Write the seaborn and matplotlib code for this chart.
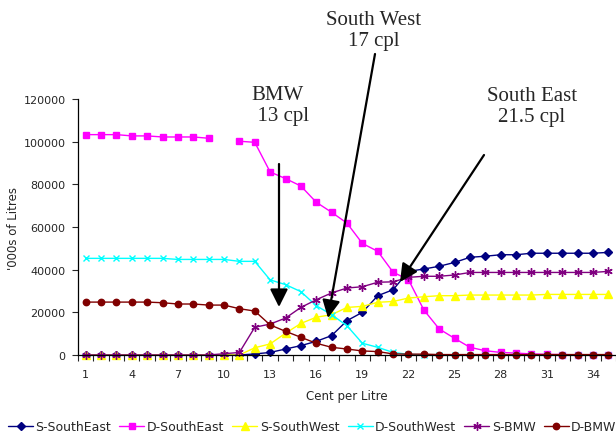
import numpy as np
import matplotlib
matplotlib.use("Agg")
import matplotlib.pyplot as plt
import seaborn as sns

nan = np.nan

# ---------------- data ----------------
cents = list(range(1, 36))

s_southeast = [0, 0, 0, 0, 0, 0, 0, 0, 0, 0, 0,
               500, 1200, 2800, 4400, 6400, 9100, 16100, 20000, 27800, 30600,
               39200, 40300, 41600, 43400, 45800, 46300, 47000, 47000, 47700,
               47700, 47700, 47700, 47700, 48100]
d_southeast = [103300, 103300, 103300, 102700, 102700, 102200, 102200, 102200, 101600, nan,
               100200, 99700, 85800, 82700, 79200, 71600, 66900, 61800, 52300, 48600,
               38800, 35300, 21100, 12200, 7800, 3600, 2000, 1200, 900, 500,
               300, 200, 100, 100, 100]
s_southwest = [0, 0, 0, 0, 0, 0, 0, 0, 0, 0, 0,
               3400, 5200, 10200, 14800, 17700, 18900, 22300, 22800, 24700, 25100,
               26700, 27300, 27800, 27800, 28100, 28100, 28100, 28100, 28100,
               28400, 28400, 28400, 28400, 28400]
d_southwest = [45300, 45300, 45300, 45300, 45300, 45300, 44800, 44800, 44800, 44800,
               43900, 43900, 35200, 33000, 29700, 23100, 18900, 13700, 5500, 3600,
               1200, 300, 100, 0, 0, 0, 0, 0, 0, 0, 0, 0, 0, 0, 0]
s_bmw = [0, 0, 0, 0, 0, 0, 0, 0, 0,
         600, 1200, 13000, 14500, 17300, 22300, 25900, 29100, 31400, 32000, 34100,
         34300, 36400, 36900, 36900, 37500, 38700, 38700, 38700, 38700, 38700,
         38700, 38700, 38700, 38700, 39200]
d_bmw = [24800, 24800, 24800, 24800, 24800, 24500, 23900, 23900, 23400, 23400,
         21700, 20600, 14100, 11100, 8300, 5500, 3600, 2800, 1900, 1600,
         500, 400, 400, 200, 200, 200, 200, 200, 200, 200, 200, 200, 200, 200, 200]

series_names = ["S-SouthEast", "D-SouthEast", "S-SouthWest", "D-SouthWest", "S-BMW", "D-BMW"]
series_values = [s_southeast, d_southeast, s_southwest, d_southwest, s_bmw, d_bmw]
colors = ["#000080", "#FF00FF", "#FFFF00", "#00FFFF", "#800080", "#800000"]
markers = ["D", "s", "^", "x", (6, 2, 0), "o"]
msizes = [3.8, 4.6, 5.2, 4.6, 6, 4.6]

tick_labels = [str(c) for c in cents[::3]]

# ---------------- plot ----------------
sns.set_style("ticks")
plt.rcParams["font.family"] = ["DejaVu Sans"]

fig = plt.figure(figsize=(6.16, 4.35), dpi=100)
ax = fig.add_axes([78 / 616, 1 - 356 / 435, 538 / 616, 256 / 435])

for name, vals, col, mk, ms in zip(series_names, series_values, colors, markers, msizes):
    vals = np.array(vals, dtype=float)
    x = np.array(cents)
    # split at gaps so the missing value breaks the line
    ok = ~np.isnan(vals)
    runs = np.split(np.arange(len(vals)), np.where(~ok)[0])
    first = True
    for r in runs:
        r = r[ok[r]]
        if len(r) == 0:
            continue
        sns.lineplot(x=x[r], y=vals[r], ax=ax, color=col, marker=mk, markersize=ms,
                     markeredgecolor=col, markerfacecolor=col, markeredgewidth=1,
                     linewidth=1, label=name if first else None, clip_on=False)
        first = False

ax.set_xlim(0.5, 35.5)
ax.set_ylim(0, 120000)
ax.set_yticks(range(0, 120001, 20000))
ax.set_xticks(cents[::3])
ax.set_xticklabels(tick_labels)
ax.set_xticks(np.arange(0.5, 36, 1), minor=True)
ax.tick_params(axis="x", which="major", length=0, labelsize=8, pad=10)
ax.tick_params(axis="x", which="minor", length=4, width=0.8)
ax.tick_params(axis="y", length=4, width=0.8, labelsize=8, pad=5)
for s in ["top", "right"]:
    ax.spines[s].set_visible(False)
for s in ["left", "bottom"]:
    ax.spines[s].set_linewidth(0.9)
    ax.spines[s].set_color("black")

ax.set_xlabel("Cent per Litre", fontsize=8.5, labelpad=7)
ax.set_ylabel("'000s of Litres", fontsize=8.5)
ax.yaxis.set_label_coords(-0.108, 0.5)

h, l = ax.get_legend_handles_labels()
ax.legend(h, l, ncol=6, loc="center left", bbox_to_anchor=(8 / 616, 1 - 428 / 435),
          bbox_transform=fig.transFigure, frameon=False, fontsize=9,
          handlelength=2.0, handletextpad=0.2, columnspacing=0.65, borderaxespad=0,
          borderpad=0)

# annotations (figure pixel positions)
def fp(px, py):
    return (px / 616, 1 - py / 435)

serif = dict(family=["Liberation Serif", "DejaVu Serif"], size=15)
fig.text(*fp(278, 106), "BMW\n  13 cpl", ha="center", va="center", linespacing=1.15, **serif)
fig.text(*fp(374, 31), "South West\n17 cpl", ha="center", va="center", linespacing=1.15, **serif)
fig.text(*fp(532, 107), "South East\n21.5 cpl", ha="center", va="center", linespacing=1.15, **serif)

arrow = dict(arrowstyle="-|>,head_length=0.6,head_width=0.3", lw=1.6, color="black",
             mutation_scale=18, shrinkA=0, shrinkB=0)
ax.annotate("", xy=fp(279, 308), xytext=fp(279, 165), xycoords="figure fraction",
            textcoords="figure fraction", arrowprops=arrow)
ax.annotate("", xy=fp(328, 319), xytext=fp(375, 55), xycoords="figure fraction",
            textcoords="figure fraction", arrowprops=arrow)
ax.annotate("", xy=fp(400, 283), xytext=fp(484, 156), xycoords="figure fraction",
            textcoords="figure fraction", arrowprops=arrow)

fig.savefig("out.png", dpi=100)
